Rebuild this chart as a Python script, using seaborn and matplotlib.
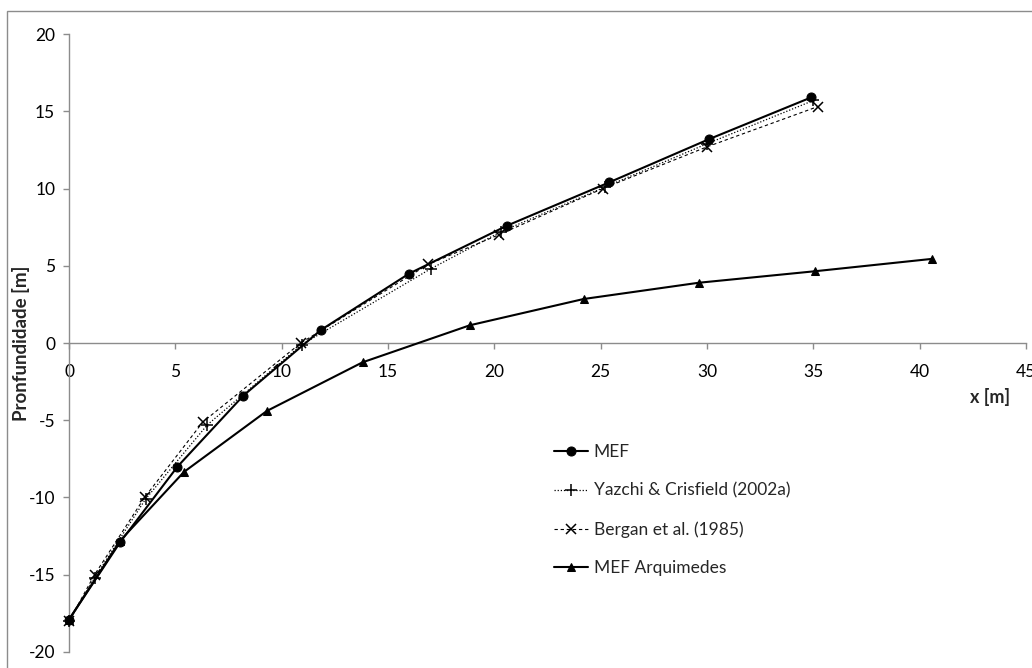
import matplotlib
matplotlib.use("Agg")
import matplotlib.pyplot as plt
import seaborn as sns
import pandas as pd
from matplotlib.patches import Rectangle

# data
mef_x = [0.0, 2.4, 5.1, 8.2, 11.85, 16.0, 20.6, 25.4, 30.1, 34.9]
mef_y = [-17.9, -12.9, -8.0, -3.4, 0.85, 4.5, 7.6, 10.4, 13.2, 15.9]

yazchi_x = [0.0, 1.2, 3.6, 6.5, 10.95, 17.0, 20.3, 25.2, 30.0, 35.0]
yazchi_y = [-18.0, -15.2, -10.1, -5.3, -0.1, 4.8, 7.2, 10.1, 12.9, 15.7]

bergan_x = [0.0, 1.2, 3.55, 6.3, 10.9, 16.9, 20.2, 25.1, 30.0, 35.2]
bergan_y = [-18.0, -15.0, -10.0, -5.1, 0.0, 5.1, 7.0, 10.0, 12.7, 15.3]

arq_x = [0.0, 2.4, 5.4, 9.3, 13.8, 18.85, 24.2, 29.6, 35.1, 40.6]
arq_y = [-17.9, -12.8, -8.35, -4.4, -1.25, 1.15, 2.85, 3.9, 4.65, 5.45]

x_ticks = [0, 5, 10, 15, 20, 25, 30, 35, 40, 45]
y_ticks = [-20, -15, -10, -5, 0, 5, 10, 15, 20]

sns.set_style("white")
plt.rcParams['font.family'] = ['Lato', 'DejaVu Sans']
plt.rcParams['axes.unicode_minus'] = False

fig = plt.figure(figsize=(10.32, 6.68), dpi=100)
ax = fig.add_axes([0.0669, 0.024, 0.9273, 0.925])

series = [
    ("MEF", mef_x, mef_y, dict(linestyle="-", linewidth=1.5, marker="o", markersize=6.5)),
    ("Yazchi & Crisfield (2002a)", yazchi_x, yazchi_y,
     dict(linestyle=(0, (1, 1.5)), linewidth=0.9, marker="+", markersize=8, markeredgewidth=1.1)),
    ("Bergan et al. (1985)", bergan_x, bergan_y,
     dict(linestyle=(0, (3, 2.5)), linewidth=0.8, marker="x", markersize=7, markeredgewidth=1.1)),
    ("MEF Arquimedes", arq_x, arq_y, dict(linestyle="-", linewidth=1.5, marker="^", markersize=5.5)),
]

for name, xs, ys, style in series:
    df = pd.DataFrame({"x": xs, "y": ys})
    sns.lineplot(data=df, x="x", y="y", ax=ax, color="black", sort=False,
                 estimator=None, label=name, clip_on=False, zorder=3,
                 markeredgecolor="black", markerfacecolor="black", **style)

ax.set_xlim(0, 45)
ax.set_ylim(-20, 20)
ax.set_xticks(x_ticks)
ax.set_yticks(y_ticks)

for s in ["top", "right"]:
    ax.spines[s].set_visible(False)
ax.spines["bottom"].set_position(("data", 0))
for s in ["left", "bottom"]:
    ax.spines[s].set_color("#8c8c8c")
    ax.spines[s].set_linewidth(1.0)

ax.tick_params(axis="both", which="major", direction="out", length=4, width=1,
               color="#8c8c8c", labelsize=12.5, labelcolor="black", pad=6)
ax.tick_params(axis="x", pad=11)
ax.tick_params(left=True, bottom=True)

ax.set_xlabel("x [m]", fontweight="bold", fontsize=13)
ax.xaxis.set_label_coords(0.962, 0.428)
ax.set_ylabel("Pronfundidade [m]", fontweight="bold", fontsize=13.5)
ax.yaxis.set_label_coords(-0.041, 0.5)

ax.legend(loc="upper left", bbox_to_anchor=(0.49, 0.362), frameon=False,
          fontsize=12.5, handlelength=2.0, handletextpad=0.3, labelspacing=1.3)

# partial chart-area border as in the reference crop
fig.patches.append(Rectangle((7 / 1032, -0.1), 1.2, 1.1 - 11 / 668,
                             transform=fig.transFigure, fill=False,
                             edgecolor="#8c8c8c", linewidth=1.0))

fig.savefig("out.png", dpi=100, facecolor="white")
